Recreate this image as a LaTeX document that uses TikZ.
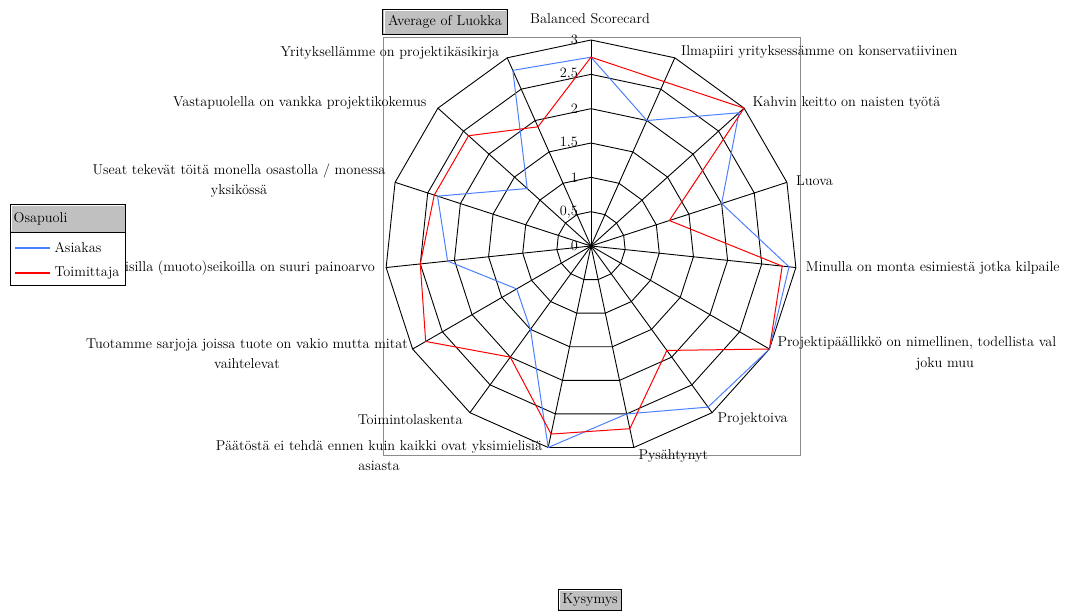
\documentclass[tikz,border=0pt]{standalone}
\usepackage{fontspec}
\definecolor{boxgray}{RGB}{192,192,192}
\definecolor{framegray}{RGB}{140,140,140}
\definecolor{asiakas}{RGB}{77,128,255}
\definecolor{toimittaja}{RGB}{255,0,0}
\begin{document}
\begin{tikzpicture}[x=1pt,y=-1pt,
  lab/.style={font=\fontsize{14.3}{20.5}\selectfont, inner sep=0pt},
  gridline/.style={black, line width=0.9pt, line join=miter},
  series/.style={line width=1pt, line join=miter},
  tagbox/.style={draw=black, line width=1pt, fill=boxgray}]
\useasboundingbox (0,0) rectangle (1068,615);
\fill[white] (0,0) rectangle (1068,615);
% plot area
\draw[framegray, line width=1pt] (383,38) rectangle (800.5,455.5);
\begin{scope}[shift={(591,246)}]
  \coordinate (c) at (0,0);
  % polygon rings
  \foreach \k in {1,...,6} {
    \draw[gridline] (-90:{\k*34.333}) \foreach \i in {1,...,14} { -- ({-90+24*\i}:{\k*34.333}) } -- cycle;
  }
  % radial axes
  \foreach \i in {0,...,14} {
    \coordinate (ax\i) at ({-90+24*\i}:206);
    \draw[gridline] (c) -- (ax\i);
  }
  % data
  \foreach \v [count=\n from 0] in {2.75,2.0,2.9,2.0,2.9,3.0,2.9,2.5,3.0,1.5,1.25,2.1,2.35,1.25,2.8} {
    \coordinate (b\n) at ({-90+24*\n}:{\v*68.667});
  }
  \foreach \v [count=\n from 0] in {2.75,2.62,3.0,1.2,2.8,3.0,1.88,2.72,2.8,2.0,2.78,2.5,2.4,2.4,1.9} {
    \coordinate (r\n) at ({-90+24*\n}:{\v*68.667});
  }
  \draw[series, asiakas] (b0) \foreach \n in {1,...,14} { -- (b\n) } -- cycle;
  \draw[series, toimittaja] (r0) \foreach \n in {1,...,14} { -- (r\n) } -- cycle;
\end{scope}
% value labels
\foreach \t/\yy [count=\m] in {3/40,{2,5}/74.3,2/108.7,{1,5}/143,1/177.3,{0,5}/211.7,0/246} {
  \node[lab, anchor=east] (val\m) at (578,\yy) {\t};
}
% category labels
\node[lab] (l0) at (590,18.5) {Balanced Scorecard};
\node[lab, anchor=west] (l1) at (681,52.3) {Ilmapiiri yrityksessämme on konservatiivinen};
\node[lab, anchor=west] (l2) at (752.3,103.3) {Kahvin keitto on naisten työtä};
\node[lab, anchor=west] (l3) at (796,181) {Luova};
\node[lab, anchor=west] (l4) at (805.7,267.7) {Minulla on monta esimiestä jotka kilpaile};
\node[lab, anchor=west] (l5) at (777.3,343.3) {Projektipäällikkö on nimellinen, todellista val};
\node[lab] (l5b) at (945,364) {joku muu};
\node[lab, anchor=west] (l6) at (717.3,419.3) {Projektoiva};
\node[lab, anchor=west] (l7) at (638.3,456) {Pysähtynyt};
\node[lab, align=center] (l8) at (379,455.5) {Päätöstä ei tehdä ennen kuin kaikki ovat yksimielisiä\\asiasta};
\node[lab, anchor=east] (l9) at (462.7,419.3) {Toimintolaskenta};
\node[lab, align=center] (l10) at (247,353.7) {Tuotamme sarjoja joissa tuote on vakio mutta mitat\\vaihtelevat};
\node[lab, anchor=east] (l11) at (375,268.3) {isilla (muoto)seikoilla on suuri painoarvo};
\node[lab, align=center] (l12) at (239,180.7) {Useat tekevät töitä monella osastolla / monessa\\yksikössä};
\node[lab, anchor=east] (l13) at (426.7,103.3) {Vastapuolella on vankka projektikokemus};
\node[lab, anchor=east] (l14) at (499.3,52.7) {Yrityksellämme on projektikäsikirja};
% legend
\draw[black, line width=1pt, fill=white] (10,204) rectangle (125.7,285.3);
\draw[tagbox] (10,204) rectangle (125.7,232.7);
\draw[white, line width=1pt] (11.5,231) -- (11.5,205.5) -- (124.2,205.5);
\node[lab, anchor=west] (legtitle) at (13.5,219) {Osapuoli};
\coordinate (la1) at (15,248); \coordinate (la2) at (50,248);
\draw[asiakas, line width=1.2pt] (la1) -- (la2);
\node[lab, anchor=west] (lega) at (54.3,247.7) {Asiakas};
\coordinate (lt1) at (15,273); \coordinate (lt2) at (50,273);
\draw[toimittaja, line width=1.2pt] (lt1) -- (lt2);
\node[lab, anchor=west] (legt) at (54.3,272.7) {Toimittaja};
% field buttons
\draw[tagbox] (382.7,9.3) rectangle (507.3,34.7);
\draw[white, line width=1pt] (384.2,33.2) -- (384.2,10.8) -- (505.8,10.8);
\node[lab] (avg) at (445,22) {Average of Luokka};
\draw[tagbox] (558.3,589.3) rectangle (621.7,610.7);
\draw[white, line width=1pt] (559.8,609.2) -- (559.8,590.8) -- (620.2,590.8);
\node[lab] (kys) at (590,600) {Kysymys};
\end{tikzpicture}
\end{document}
